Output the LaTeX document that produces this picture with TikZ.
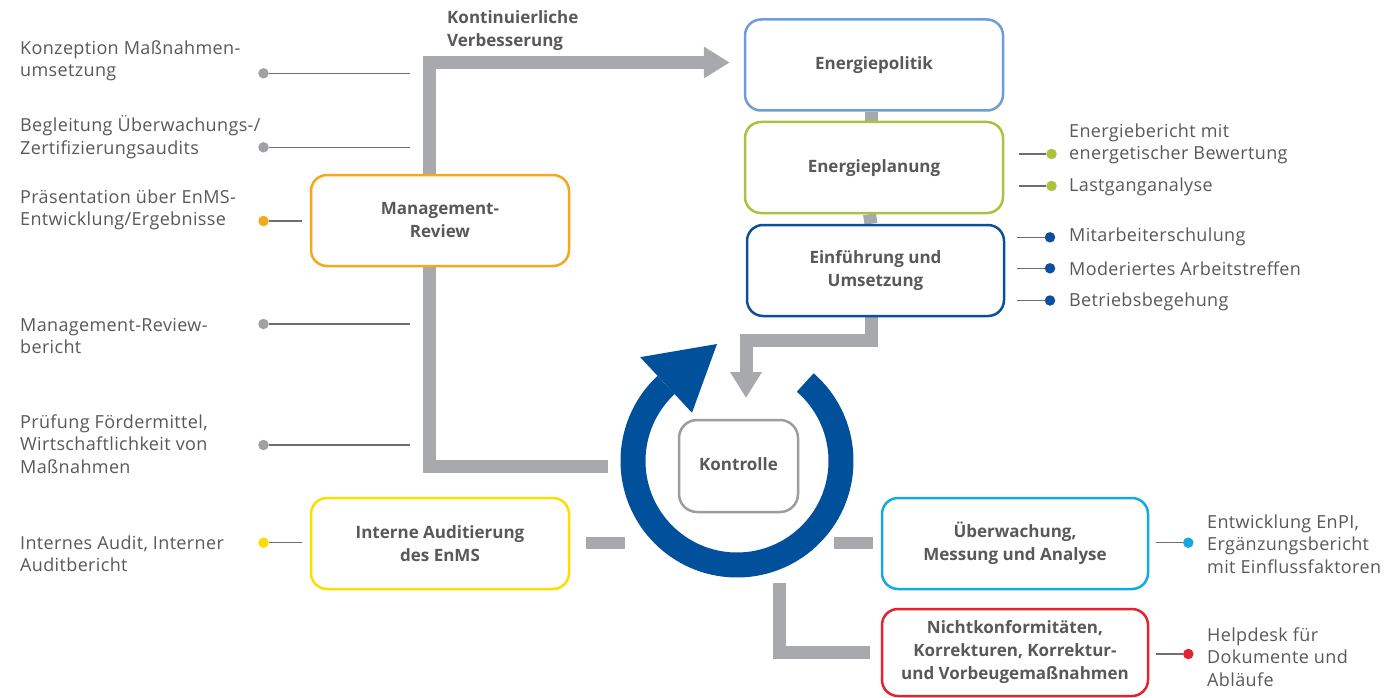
\documentclass[tikz,border=0pt]{standalone}
\usepackage{fontspec}
\setmainfont{Open Sans}
\usetikzlibrary{arrows.meta,backgrounds}
\definecolor{txtgray}{HTML}{58595B}
\definecolor{conngray}{HTML}{A7A9AC}
\definecolor{leadgray}{HTML}{6D6E71}
\definecolor{dotgray}{HTML}{A0A1A4}
\definecolor{cpol}{HTML}{6F9DD8}
\definecolor{cplan}{HTML}{A9C23F}
\definecolor{ceinf}{HTML}{0D4F9C}
\definecolor{cmgmt}{HTML}{F5A81C}
\definecolor{caud}{HTML}{FFDD00}
\definecolor{ckon}{HTML}{9D9D9C}
\definecolor{cueb}{HTML}{16A9E1}
\definecolor{cnicht}{HTML}{E52330}
\definecolor{ringblue}{HTML}{00509B}
\newcommand{\mylblfont}{\fontsize{18}{22.4}\selectfont\addfontfeature{LetterSpace=2}}
\newcommand{\myboxfont}{\fontsize{17}{23}\selectfont\bfseries}
\begin{document}
\begin{tikzpicture}[x=1pt,y=-1pt,
  stepbox/.style={draw, rounded corners=16pt, line width=2.5pt, fill=white,
    minimum width=258pt, minimum height=91pt, align=center, font=\myboxfont,
    text=txtgray, inner sep=2pt},
  lbl/.style={anchor=west, align=left, font=\mylblfont, text=txtgray, inner sep=0pt},
  conn/.style={draw=conngray, line width=13pt},
  bigtip/.style={-{Triangle[length=26pt,width=30pt]}},
  lead/.style={draw=leadgray, line width=1.2pt},
  dot/.style={circle, inner sep=0pt, minimum size=10.5pt}]
\useasboundingbox (0,0) rectangle (1397,698);

% boxes
\node[stepbox, draw=cpol] (pol) at (874,65) {\strut Energiepolitik};
\node[stepbox, draw=cplan] (plan) at (874,167.5) {\strut Energieplanung};
\node[stepbox, draw=ceinf, minimum width=257pt] (einf) at (875.5,270.5) {Einführung und\\Umsetzung};
\node[stepbox, draw=cmgmt] (mgmt) at (440,220.5) {Management-\\Review};
\node[stepbox, draw=caud] (aud) at (440,543.5) {Interne Auditierung\\des EnMS};
\node[stepbox, draw=ckon, minimum width=119pt, minimum height=92pt, rounded corners=18pt] (kon) at (738.5,466) {\strut Kontrolle};
\node[stepbox, draw=cueb, minimum width=266pt] (ueb) at (1015,543.5) {Überwachung,\\Messung und Analyse};
\node[stepbox, draw=cnicht, minimum width=266pt, minimum height=87pt] (nicht) at (1015,652.5) {Nichtkonformitäten,\\Korrekturen, Korrektur-\\und Vorbeugemaßnahmen};

\node[anchor=west, align=left, font=\myboxfont, text=txtgray, inner sep=0pt] (kv) at (447,31) {Kontinuierliche\\Verbesserung};

% connectors (behind boxes)
\coordinate (loopstart) at (608,466);
\coordinate (loopbl) at (429,466);
\coordinate (looptl) at (429,62.5);
\coordinate (einfturn) at (871,340);
\coordinate (downtip) at (746,398);
\coordinate (lstart) at (779.5,583);
\begin{pgfonlayer}{background}
\fill[white] (0,0) rectangle (1397,698);
\draw[conn, bigtip, shorten >=14pt] (loopstart) -- (loopbl) -- (looptl) -- ([yshift=2.5pt]pol.west);
\draw[conn] ([xshift=-3pt]pol.south) -- ([xshift=-3pt]plan.north);
\draw[conn] ([xshift=-4.5pt]plan.south) -- ([xshift=-4.5pt]einf.north);
\draw[conn, bigtip] ([xshift=-4.5pt]einf.south) -- (einfturn) -| (downtip);
\draw[conn, line width=12pt] ([xshift=16pt,yshift=1pt]aud.east) -- ++(39,0);
\draw[conn, line width=12pt] ([xshift=-8pt,yshift=1pt]ueb.west) -- ++(-39,0);
\draw[conn] (lstart) |- ([xshift=-11pt]nicht.west);
\end{pgfonlayer}

% ring
\begin{scope}[shift={(737,461)}, x=1pt, y=1pt]
\draw[ringblue, line width=25pt] (49:104) arc[start angle=49, end angle=-227, radius=104pt];
\fill[ringblue] (133:66) -- (133:142) -- (-20,117) -- cycle;
\end{scope}

% left labels
\node[lbl] (l1) at (20,61) {Konzeption Maßnahmen-\\umsetzung};
\node[lbl] (l2) at (20,137) {Begleitung Überwachungs-/\\Zertifizierungsaudits};
\node[lbl] (l3) at (20,210) {Präsentation über EnMS-\\Entwicklung/Ergebnisse};
\node[lbl] (l4) at (20,336) {Management-Review-\\bericht};
\node[lbl] (l5) at (20,444) {Prüfung Fördermittel,\\Wirtschaftlichkeit von\\Maßnahmen};
\node[lbl] (l6) at (20,554) {Internes Audit, Interner\\Auditbericht};

\node[dot, fill=dotgray] (d1) at (263.5,73.3) {};
\node[dot, fill=dotgray] (d2) at (263.5,147.3) {};
\node[dot, fill=cmgmt] (d3) at (263.5,221) {};
\node[dot, fill=dotgray] (d4) at (263.5,324) {};
\node[dot, fill=dotgray] (d5) at (263.5,445) {};
\node[dot, fill=caud] (d6) at (263.5,542.7) {};
\draw[lead] (d1) -- ++(146,0);
\draw[lead] (d2) -- ++(146,0);
\draw[lead] (d3.east) -- ([xshift=-8pt]d3 -| mgmt.west);
\draw[lead] (d4) -- ++(146,0);
\draw[lead] (d5) -- ++(146,0);
\draw[lead] (d6.east) -- ([xshift=-8pt]d6 -| aud.west);

% right labels
\node[lbl] (r1) at (1069,144) {Energiebericht mit\\energetischer Bewertung};
\node[lbl] (r2) at (1069,187) {Lastganganalyse};
\node[lbl] (r3) at (1069,237) {Mitarbeiterschulung};
\node[lbl] (r4) at (1069,269) {Moderiertes Arbeitstreffen};
\node[lbl] (r5) at (1069,301.5) {Betriebsbegehung};
\node[lbl] (r6) at (1207,544) {Entwicklung EnPI,\\Ergänzungsbericht\\mit Einflussfaktoren};
\node[lbl] (r7) at (1207,657) {Helpdesk für\\Dokumente und\\Abläufe};

\node[dot, fill=cplan] (e1) at (1051.5,154) {};
\node[dot, fill=cplan] (e2) at (1051.5,186) {};
\node[dot, fill=ceinf] (e3) at (1050,237.3) {};
\node[dot, fill=ceinf] (e4) at (1050,268.3) {};
\node[dot, fill=ceinf] (e5) at (1050,300.5) {};
\node[dot, fill=cueb] (e6) at (1188.3,542.7) {};
\node[dot, fill=cnicht] (e7) at (1188.3,654) {};
\draw[lead] (e1.west) -- ([xshift=15pt]e1 -| plan.east);
\draw[lead] (e2.west) -- ([xshift=15pt]e2 -| plan.east);
\draw[lead] (e3.west) -- ([xshift=12pt]e3 -| einf.east);
\draw[lead] (e4.west) -- ([xshift=12pt]e4 -| einf.east);
\draw[lead] (e5.west) -- ([xshift=12pt]e5 -| einf.east);
\draw[lead] (e6.west) -- ([xshift=7pt]e6 -| ueb.east);
\draw[lead] (e7.west) -- ([xshift=7pt]e7 -| nicht.east);
\end{tikzpicture}
\end{document}
